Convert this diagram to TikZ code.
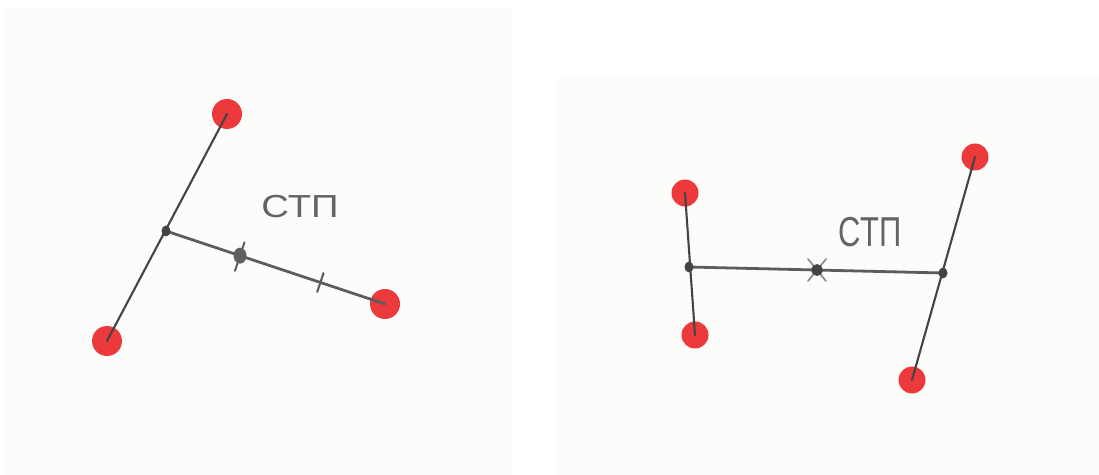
\documentclass[tikz,border=0pt]{standalone}
\usepackage{fontspec}
\setmainfont{Liberation Sans}
\usetikzlibrary{calc,shapes.geometric}
\definecolor{paper}{RGB}{252,252,250}
\definecolor{dotred}{RGB}{236,58,60}
\definecolor{ink}{RGB}{68,68,68}
\definecolor{pencil}{RGB}{92,92,92}
\definecolor{txt}{RGB}{100,100,100}
\tikzset{
  reddotL/.style={circle,fill=dotred,draw=none,minimum width=29bp,minimum height=30bp,inner sep=0pt},
  reddotR/.style={circle,fill=dotred,draw=none,minimum width=26bp,minimum height=27bp,inner sep=0pt},
  junc/.style={ellipse,fill=ink,draw=none,minimum width=9bp,minimum height=11bp,inner sep=0pt},
  bigjunc/.style={ellipse,fill=ink!85,draw=none,minimum width=13bp,minimum height=16bp,inner sep=0pt},
  wire/.style={draw=ink,line width=2.1bp,line cap=round},
  thickwire/.style={draw=pencil,line width=2.8bp,line cap=round},
  markline/.style={draw=pencil,line width=2bp,line cap=round},
  xline/.style={draw=pencil!70,line width=1.7bp,line cap=round},
  label/.style={text=txt,inner sep=0pt,font=\fontsize{32}{32}\selectfont}
}
\begin{document}
\begin{tikzpicture}[x=1bp,y=-1bp]
\useasboundingbox (0,0) rectangle (1099,475);
\fill[white] (0,0) rectangle (1099,475);
\fill[paper] (5,7) rectangle (513,475);
\fill[paper] (557,76) rectangle (1099,475);
% ---------- left panel ----------
\node[reddotL] (L1) at (227,114) {};
\node[reddotL] (L2) at (107,341) {};
\node[reddotL] (L3) at (385,304) {};
\coordinate (J1c) at (166,231);
\draw[wire] (L1.center) -- (L2.center);
\draw[thickwire] (J1c) -- (L3.center);
\coordinate (M1c) at ($(J1c)!0.338!(L3.center)$);
\coordinate (T1c) at ($(J1c)!0.705!(L3.center)$);
\draw[markline] ($(M1c)!14bp!90:(L3.center)$) -- ($(M1c)!-16bp!90:(L3.center)$);
\draw[markline] ($(T1c)!10bp!90:(L3.center)$) -- ($(T1c)!-10bp!90:(L3.center)$);
\node[junc] (J1) at (J1c) {};
\node[bigjunc] (M1) at (M1c) {};
\node[label,xscale=1.2] (t1) at (300,207) {СТП};
% ---------- right panel ----------
\node[reddotR] (R1) at (685,193) {};
\node[reddotR] (R2) at (695,335) {};
\node[reddotR] (R3) at (975,157) {};
\node[reddotR] (R4) at (912,380) {};
\coordinate (J2c) at (689,267);
\coordinate (J3c) at (943,273);
\draw[wire] (R1.center) -- (R2.center);
\draw[wire] (R3.center) -- (R4.center);
\draw[thickwire] (J2c) -- (J3c);
\coordinate (M2c) at ($(J2c)!0.504!(J3c)$);
\draw[xline] ($(M2c)+(-9,-11)$) -- ($(M2c)+(9,11)$);
\draw[xline] ($(M2c)+(-9,11)$) -- ($(M2c)+(9,-11)$);
\node[junc] (J2) at (J2c) {};
\node[junc] (J3) at (J3c) {};
\node[junc,minimum width=11bp,minimum height=12bp] (M2) at (M2c) {};
\node[label,font=\fontsize{42}{42}\selectfont,xscale=0.74] (t2) at (870,232) {СТП};
\end{tikzpicture}
\end{document}
